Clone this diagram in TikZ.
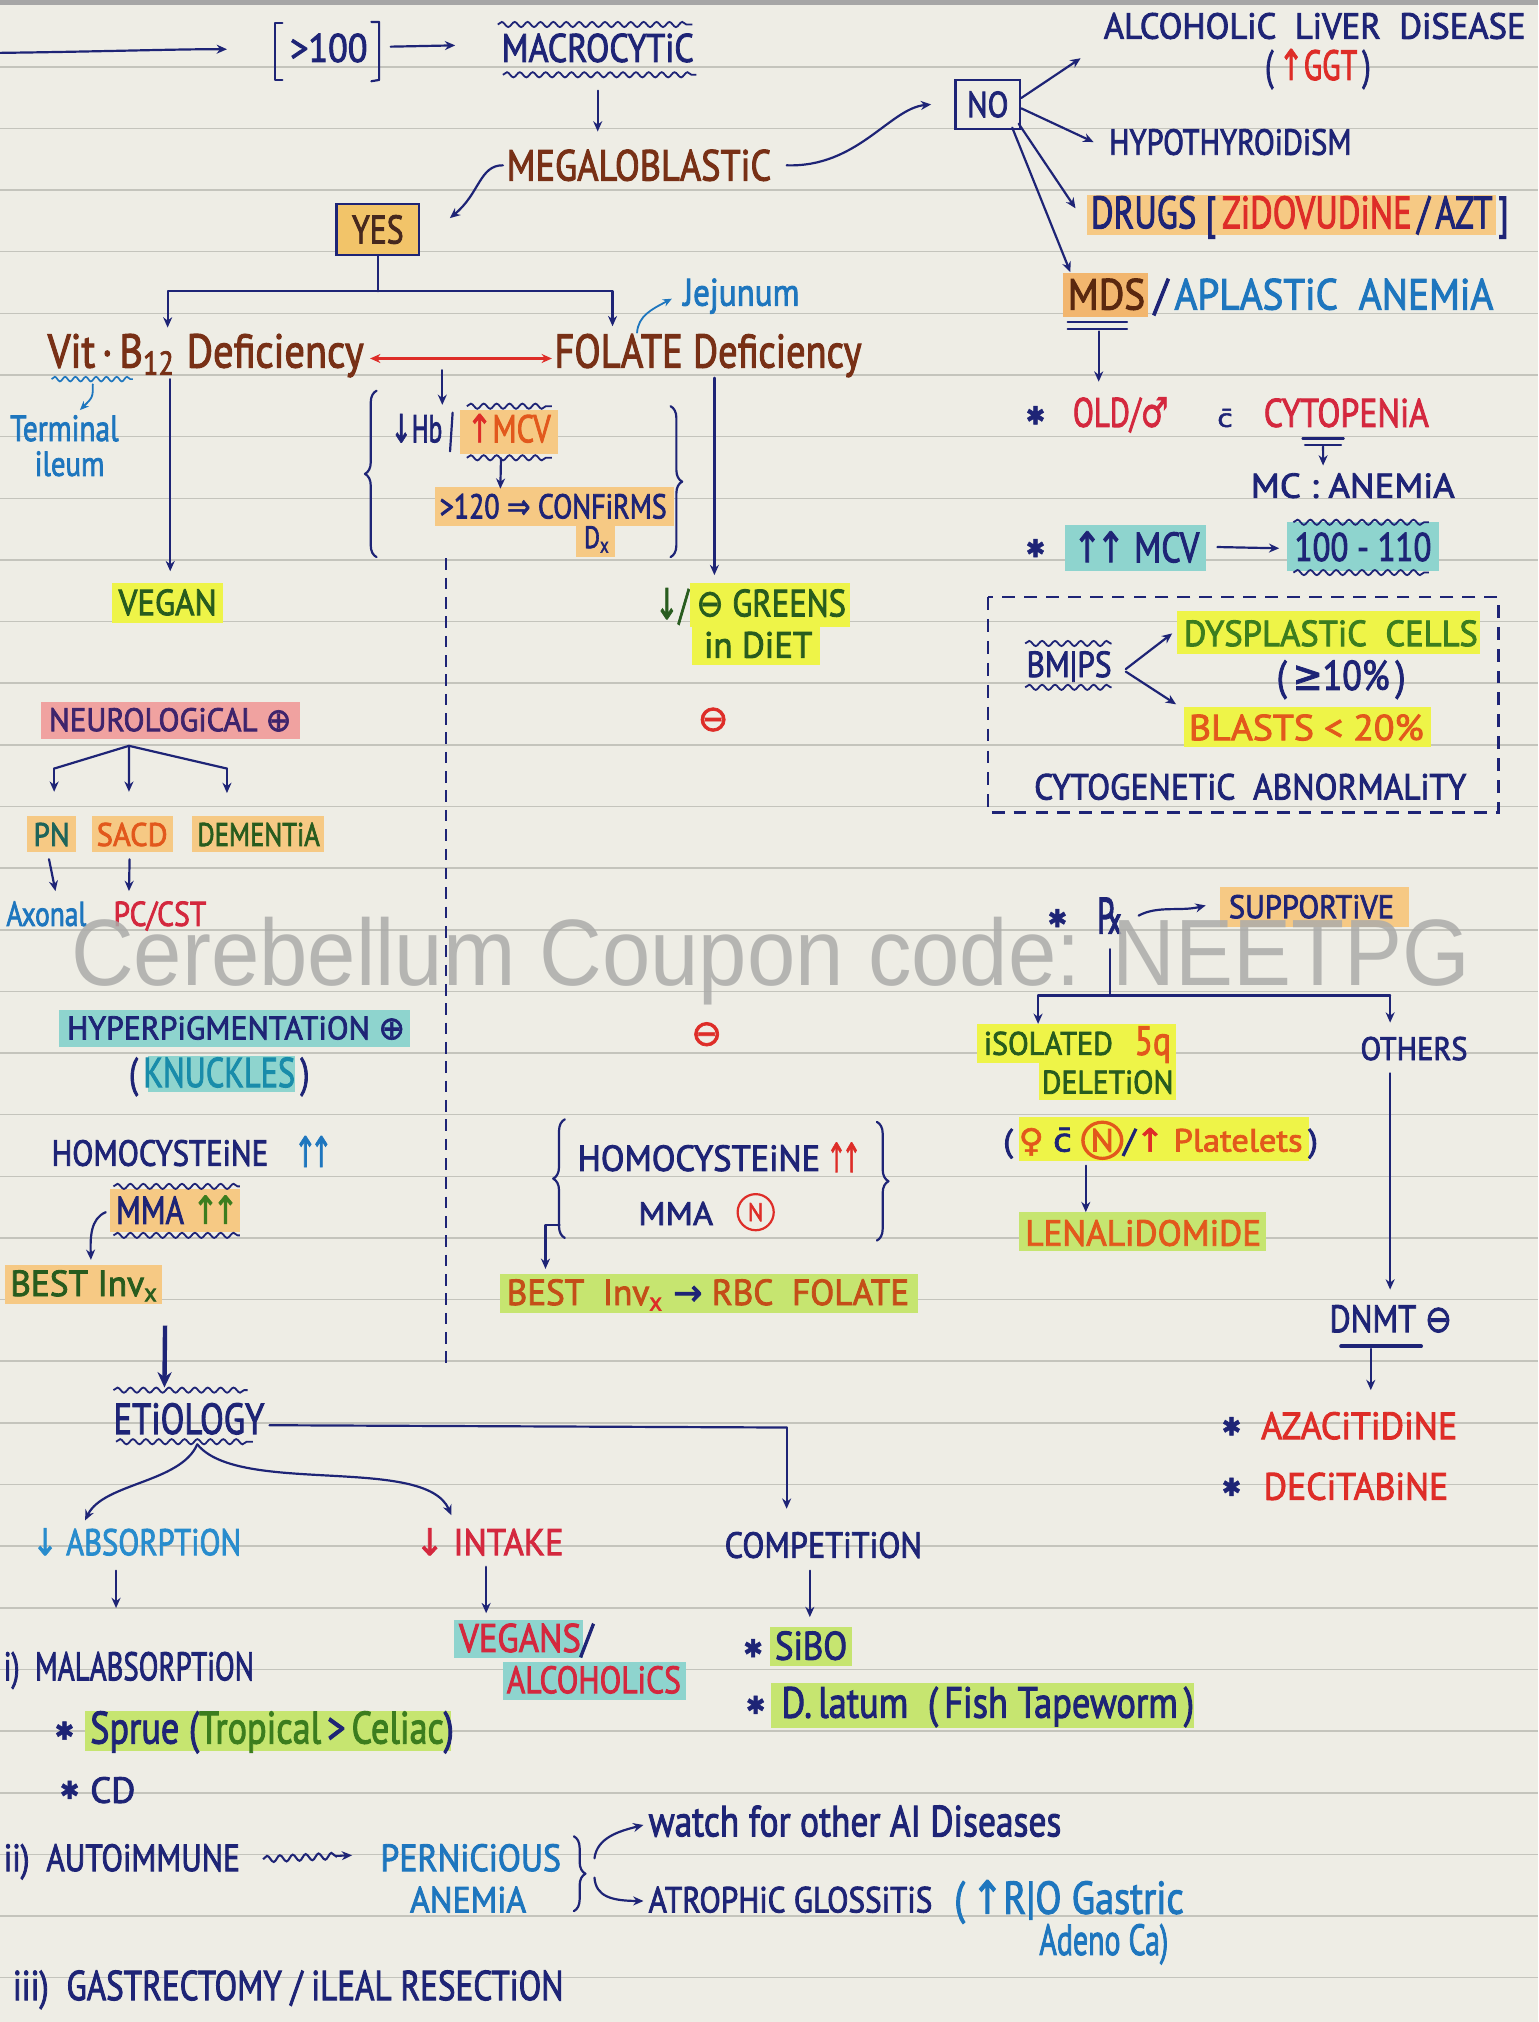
\documentclass[tikz,border=0pt]{standalone}
\usepackage{fontspec}
\usepackage{graphicx}
\usetikzlibrary{arrows.meta,decorations.pathmorphing,decorations.pathreplacing,calc}
\newfontfamily\hand[FakeBold=2.4]{PT Sans}
\newfontfamily\sym[FakeBold=2]{DejaVu Sans}
\newfontfamily\wmark{Liberation Sans}
% box of given width and height (in picture units)
\newcommand\hw[3]{\resizebox{#1pt}{#2pt}{#3}}
\newcommand\uA{{\sym ↑}}
\newcommand\dA{{\sym ↓}}
\newcommand\cN[1]{\tikz[baseline=(cnn.base)]\node[circle,draw=#1,text=#1,line width=0.1em,inner sep=0.05em](cnn){\hand N};}
\definecolor{paper}{RGB}{238,237,229}
\definecolor{rule}{RGB}{196,196,188}
\definecolor{navy}{RGB}{30,36,118}
\definecolor{brownpen}{RGB}{120,48,22}
\definecolor{crim}{RGB}{212,40,62}
\definecolor{redpen}{RGB}{222,45,40}
\definecolor{bluepen}{RGB}{30,118,190}
\definecolor{skypen}{RGB}{40,140,205}
\definecolor{dgreen}{RGB}{40,92,30}
\definecolor{gpen}{RGB}{60,125,30}
\definecolor{orpen}{RGB}{226,88,28}
\definecolor{rustpen}{RGB}{196,78,24}
\definecolor{purp}{RGB}{62,36,108}
\definecolor{tealpen}{RGB}{25,140,170}
\definecolor{pnpen}{RGB}{30,100,90}
\definecolor{mdspen}{RGB}{90,40,15}
\definecolor{yespen}{RGB}{70,40,30}
\definecolor{hlY}{RGB}{238,244,72}
\definecolor{hlO}{RGB}{246,201,132}
\definecolor{hlM}{RGB}{242,182,110}
\definecolor{hlG}{RGB}{198,229,112}
\definecolor{hlT}{RGB}{142,212,206}
\definecolor{hlP}{RGB}{240,162,160}
\definecolor{yesfill}{RGB}{242,196,105}
\definecolor{wmgray}{RGB}{172,172,170}
\begin{document}
\begin{tikzpicture}[x=1pt,y=-1pt,
  txt/.style={inner sep=0pt, outer sep=0pt, anchor=base west, font=\hand},
  glyph/.style={inner sep=0pt, outer sep=0pt, anchor=center, font=\sym},
  inkline/.style={draw=navy, line width=1.7pt, line cap=round, line join=round},
  arr/.style={inkline, -{Stealth[length=8pt, width=7pt]}},
  arrb/.style={draw=bluepen, line width=1.4pt, line cap=round, -{Stealth[length=7pt, width=6pt]}},
  wavy/.style={draw=navy, line width=1.4pt, decorate, decoration={snake, amplitude=2pt, segment length=10pt}},
  curly/.style={inkline, decorate, decoration={brace, amplitude=9pt}},
]
% paper
\fill[paper] (0,0) rectangle (1193,1568);
\useasboundingbox (0,0) rectangle (1193,1568);
\fill[black!35] (0,0) rectangle (1193,4);
\foreach \k in {1,...,32} \draw[rule, line width=1.2pt] (0,{4+47.8*\k}) -- (1193,{4+47.8*\k});

% ================= top chain
\coordinate (st) at (0,41);
\node[txt] (gt) at (225,48) {\hw{60}{22}{\color{navy}>100}};
\draw[inkline] (219,18)--(213,18)--(213,62)--(219,62);
\draw[inkline] (288,17)--(294,17)--(294,62)--(288,63);
\draw[arr] (st) .. controls (80,40) and (140,38) .. ($(gt.west)+(-49,1)$);
\node[txt] (macro) at (389,48) {\hw{149}{22}{\color{navy}MACROCYTiC}};
\draw[arr] ($(gt.east)+(18,-1)$) -- ($(macro.west)+(-36,-2)$);
\draw[wavy] (386,19) -- (537,19);
\draw[wavy] (390,58) -- (540,58);
\node[txt] (mega) at (393,140) {\hw{205}{24}{\color{brownpen}MEGALOBLASTiC}};
\draw[arr] ($(macro.south)+(0,22)$) -- ($(macro.south |- mega.north)+(0,-14)$);

\node[draw=navy, line width=1.7pt, fill=yesfill, minimum width=64pt, minimum height=40pt, inner sep=0pt] (yes) at (293,178) {\hw{40}{22}{\color{yespen}\hand YES}};
\draw[arr] ($(mega.west)+(-3,0)$) .. controls (372,128) and (372,150) .. ($(yes.north east)+(23,12)$);

\node[draw=navy, line width=1.9pt, minimum width=50pt, minimum height=38pt, inner sep=0pt] (no) at (766,81) {\hw{32}{20}{\color{navy}\hand NO}};
\draw[arr] ($(mega.east)+(12,0)$) .. controls (665,130) and (690,84) .. ($(no.west)+(-18,0)$);

% ================= NO branch
\node[txt] (ald) at (856,30) {\hw{327}{20}{\color{navy}ALCOHOLiC\ \ LiVER\ \ DiSEASE}};
\node[txt] (ggt) at (981,62) {\hw{82}{24}{\color{navy}(\,{\color{redpen}\uA GGT}\,)}};
\node[txt] (hypo) at (860,120) {\hw{188}{20}{\color{navy}HYPOTHYROiDiSM}};
\fill[hlO] (843,151) rectangle (1160,182);
\node[txt] (drugs) at (846,177) {\hw{324}{25}{\color{navy}DRUGS [\,{\color{redpen}ZiDOVUDiNE}\,/\,AZT\,]}};
\fill[hlM] (824,212) rectangle (890,246);
\node[txt] (mds) at (828,240) {\hw{60}{24}{\color{mdspen}MDS}};
\node[txt] (apl) at (895,240) {\hw{263}{24}{\color{navy}/\,{\color{bluepen}APLASTiC\ \ ANEMiA}}};
\draw[arr] ($(no.east)+(0,-5)$) -- ($(ald.west)+(-18,25)$);
\draw[arr] ($(no.east)+(0,3)$) -- ($(hypo.west)+(-12,0)$);
\draw[arr] ($(no.south east)+(-2,-5)$) -- ($(drugs.west)+(-12,-7)$);
\draw[arr] ($(no.south east)+(-7,-2)$) -- ($(mds.north)+(-28,-5)$);

\draw[inkline] (828,250) -- (874,250);
\draw[inkline] (828,255) -- (874,255);
\draw[arr] (852,257) -- (852,296);

\node[glyph] (s1) at (803,322) {\hw{15}{14}{\color{navy}✱}};
\node[txt] (old) at (832,331) {\hw{74}{23}{\color{crim}OLD/{\sym ♂}}};
\node[txt] (cb1) at (944,331) {\hw{12}{14}{\color{navy}\sym c̄}};
\node[txt] (cyto) at (980,331) {\hw{128}{22}{\color{crim}CYTOPENiA}};
\draw[inkline] (1010,340) -- (1042,340);
\draw[inkline] (1012,345) -- (1040,345);
\node[txt] (mc) at (970,386) {\hw{158}{19}{\color{navy}MC : ANEMiA}};
\draw[arr] ($(cyto.south)+(-18,15)$) -- ($(mc.north)+(-23,-6)$);

\node[glyph] (s2) at (803,425) {\hw{15}{14}{\color{navy}✱}};
\fill[hlT] (826,407) rectangle (935,443);
\node[txt] (mcv2) at (832,436) {\hw{98}{24}{\color{navy}\uA\kern-0.15em\uA\ MCV}};
\fill[hlT] (998,405) rectangle (1116,443);
\node[txt] (r100) at (1004,435) {\hw{106}{22}{\color{navy}100 - 110}};
\draw[arr] ($(mcv2.east)+(14,0)$) -- ($(r100.west)+(-12,1)$);
\draw[wavy] (1003,405) -- (1108,405);
\draw[wavy] (1003,444) -- (1108,444);

% dashed MDS box
\draw[navy, line width=1.7pt, dash pattern=on 10pt off 7pt] (766,463) rectangle (1162,630);
\node[txt] (bmps) at (796,525) {\hw{66}{20}{\color{navy}BM|PS}};
\draw[wavy] (795,499) -- (862,499);
\draw[wavy] (795,533) -- (862,533);
\fill[hlY] (913,474) rectangle (1148,507);
\node[txt] (dys) at (918,501) {\hw{228}{20}{\color{gpen}DYSPLASTiC\ \ CELLS}};
\node[txt] (ge10) at (990,535) {\hw{100}{23}{\color{navy}(\,{\sym ≥}10\%\,)}};
\fill[hlY] (918,548) rectangle (1110,579);
\node[txt] (blast) at (922,574) {\hw{182}{20}{\color{orpen}BLASTS < 20\%}};
\draw[arr] ($(bmps.east)+(11,2)$) -- ($(dys.west)+(-9,0)$);
\draw[arr] ($(bmps.east)+(11,4)$) -- ($(blast.west)+(-10,-18)$);
\node[txt] (cytog) at (802,620) {\hw{335}{20}{\color{navy}CYTOGENETiC\ \ ABNORMALiTY}};

% ================= treatment
\node[glyph] (s3) at (820,712) {\hw{15}{14}{\color{navy}✱}};
\node[txt] (rx) at (851,724) {\hw{20}{28}{\color{navy}\sym ℞}};
\fill[hlO] (946,688) rectangle (1093,719);
\node[txt] (supp) at (953,712) {\hw{128}{18}{\color{navy}SUPPORTiVE}};
\draw[arr] ($(rx.east)+(12,0)$) .. controls (898,702) and (915,707) .. ($(supp.west)+(-18,-1)$);
\draw[inkline] (861,736) -- (861,772);
\draw[inkline] (805,772) -- (1078,772);
\fill[hlY] (758,794) rectangle (912,824);
\fill[hlY] (806,824) rectangle (912,853);
\node[txt] (iso) at (763,818) {\hw{100}{18}{\color{dgreen}iSOLATED}};
\node[txt] (q5) at (880,818) {\hw{28}{22}{\color{orpen}5q}};
\node[txt] (del) at (808,848) {\hw{102}{18}{\color{dgreen}DELETiON}};
\node[txt] (oth) at (1055,822) {\hw{83}{18}{\color{navy}OTHERS}};
\draw[arr] (805,772) -- ($(iso.north west)+(42,-6)$);
\draw[arr] (1078,772) -- ($(oth.north west)+(23,-11)$);
\fill[hlY] (790,866) rectangle (1015,900);
\node[txt] (plt) at (778,893) {\hw{244}{24}{\color{navy}(\,{\color{orpen}\sym ♀} {\sym c̄} \cN{orpen}/{\color{redpen}\uA} {\color{orpen}Platelets}\,)}};
\fill[hlG] (790,940) rectangle (982,970);
\node[txt] (lena) at (795,966) {\hw{183}{20}{\color{orpen}LENALiDOMiDE}};
\draw[arr] (842,904) -- ($(lena.north west)+(47,-6)$);
\node[txt] (dnmt) at (1031,1033) {\hw{95}{21}{\color{navy}DNMT {\sym ⊖}}};
\draw[arr] ($(oth.south west)+(23,10)$) -- ($(dnmt.north west)+(47,-12)$);
\draw[navy, line width=3pt, line cap=round] (1040,1044) -- (1102,1044);
\node[glyph] (s4) at (955,1106) {\hw{15}{14}{\color{navy}✱}};
\node[txt] (aza) at (978,1116) {\hw{152}{21}{\color{redpen}AZACiTiDiNE}};
\node[glyph] (s5) at (955,1153) {\hw{15}{14}{\color{navy}✱}};
\node[txt] (dec) at (980,1163) {\hw{143}{21}{\color{redpen}DECiTABiNE}};
\draw[arr] (1063,1046) -- ($(aza.north west)+(85,-17)$);

% ================= YES branch
\draw[inkline] (yes.south) -- ++(0,27) coordinate (yb);
\draw[arr] (yb) -| (130,254);
\draw[arr] (yb) -| (475,253);
\node[txt] (vit) at (37,285) {\hw{245}{26}{\color{brownpen}Vit\,·\,B\textsubscript{12} Deficiency}};
\node[txt] (fol) at (430,285) {\hw{238}{26}{\color{brownpen}FOLATE Deficiency}};
\draw[redpen, line width=1.6pt, {Stealth[length=8pt,width=7pt]}-{Stealth[length=8pt,width=7pt]}] (287,278) -- (428,278);
\draw[bluepen, line width=1.3pt, decorate, decoration={snake, amplitude=1.8pt, segment length=8pt}] (40,294) -- (103,294);
\node[txt] (term) at (8,342) {\hw{84}{20}{\color{bluepen}Terminal}};
\node[txt] (ileum) at (27,369) {\hw{54}{19}{\color{bluepen}ileum}};
\draw[arrb] (72,298) .. controls (72,308) .. ($(term.north)+(12,-4)$);
\node[txt] (jej) at (530,237) {\hw{90}{21}{\color{bluepen}Jejunum}};
\draw[arrb] (494,258) .. controls (495,245) and (505,240) .. ($(jej.west)+(-9,2)$);

% lab findings
\draw[arr] (343,287) -- (343,314);
\draw[curly] (292,432) -- (292,303);
\node[txt] (hb) at (303,343) {\hw{40}{22}{\color{navy}\dA Hb}};
\draw[inkline] (351,320) -- (349,350);
\fill[hlO] (357,318) rectangle (433,352);
\node[txt] (mcv1) at (362,343) {\hw{65}{22}{{\color{redpen}\uA}{\color{orpen}MCV}}};
\draw[wavy] (362,315) -- (428,315);
\draw[wavy] (362,355) -- (428,355);
\fill[hlO] (337,378) rectangle (523,408);
\fill[hlO] (447,406) rectangle (477,432);
\node[txt] (conf) at (341,402) {\hw{176}{19}{\color{navy}>120 {\sym ⇒} CONFiRMS}};
\node[txt] (dx) at (453,425) {\hw{20}{17}{\color{navy}D\textsubscript{x}}};
\draw[arr] ($(mcv1.south)+(-6,12)$) -- ($(conf.north)+(-41,-4)$);
\draw[curly] (520,315) -- (520,432);

\draw[arr] (132,294) -- (132,443);
\draw[arr] (554,293) -- (554,446);
\fill[hlY] (87,452) rectangle (173,483);
\node[txt] (vegan) at (92,477) {\hw{76}{20}{\color{dgreen}VEGAN}};
\node[txt] (gr0) at (508,480) {\hw{26}{24}{\color{dgreen}\dA/}};
\fill[hlY] (535,452) rectangle (659,486);
\fill[hlY] (537,486) rectangle (636,516);
\node[txt] (gr1) at (540,478) {\hw{116}{21}{\color{dgreen}{\sym ⊖} GREENS}};
\node[txt] (gr2) at (546,510) {\hw{84}{20}{\color{dgreen}in DiET}};
\draw[navy, line width=1.6pt, dash pattern=on 9pt off 6pt] (346,433) -- (346,1062);
\node[glyph] (m1) at (553,558) {\hw{24}{18}{\color{redpen}⊖}};
\node[glyph] (m2) at (548,802) {\hw{24}{18}{\color{redpen}⊖}};

% B12 features
\fill[hlP] (32,544) rectangle (233,573);
\node[txt] (neuro) at (38,567) {\hw{188}{18}{\color{purp}NEUROLOGiCAL {\sym ⊕}}};
\coordinate (nj) at ($(neuro.south)+(-32,11)$);
\draw[inkline] (nj) -- (42,596);
\draw[inkline] (nj) -- (176,596);
\draw[arr] (42,596) -- (42,614);
\draw[arr] (nj) -- (100,614);
\draw[arr] (176,596) -- (176,615);
\fill[hlO] (21,633) rectangle (59,661);
\node[txt] (pn) at (26,656) {\hw{28}{18}{\color{pnpen}PN}};
\fill[hlO] (71,633) rectangle (134,661);
\node[txt] (sacd) at (75,656) {\hw{55}{18}{\color{orpen}SACD}};
\fill[hlO] (149,633) rectangle (251,661);
\node[txt] (dem) at (153,656) {\hw{95}{18}{\color{dgreen}DEMENTiA}};
\node[txt] (axon) at (5,718) {\hw{62}{19}{\color{bluepen}Axonal}};
\node[txt] (pccst) at (88,718) {\hw{72}{19}{\color{crim}PC/CST}};
\draw[arr] ($(pn.south)+(-2,10)$) -- ($(axon.north)+(7,-8)$);
\draw[arr] ($(sacd.south)+(-2,10)$) -- ($(pccst.north)+(-24,-8)$);

\fill[hlT] (46,783) rectangle (318,812);
\node[txt] (hyper) at (52,806) {\hw{262}{18}{\color{navy}HYPERPiGMENTATiON {\sym ⊕}}};
\fill[hlT] (115,819) rectangle (229,847);
\node[txt] (knk) at (100,843) {\hw{140}{23}{\color{navy}(\,{\color{tealpen}KNUCKLES}\,)}};
\node[txt] (hcy1) at (40,904) {\hw{168}{20}{\color{navy}HOMOCYSTEiNE}};
\node[txt] (hcy1u) at (228,905) {\hw{30}{24}{\color{bluepen}\uA\kern-0.25em\uA}};
\fill[hlO] (85,922) rectangle (186,955);
\node[txt] (mma1) at (90,949) {\hw{95}{22}{{\color{navy}MMA\ }{\color{gpen}\uA\kern-0.2em\uA}}};
\draw[wavy] (88,920) -- (186,920);
\draw[wavy] (88,958) -- (186,958);
\fill[hlO] (4,981) rectangle (126,1011);
\node[txt] (best1) at (8,1005) {\hw{115}{20}{\color{dgreen}BEST Inv\textsubscript{x}}};
\draw[arr] ($(mma1.west)+(-8,2)$) .. controls (70,945) and (70,960) .. ($(best1.north)+(5,-8)$);

% etiology
\node[txt] (etio) at (88,1112) {\hw{117}{24}{\color{navy}ETiOLOGY}};
\draw[navy, line width=3.4pt, -{Stealth[length=12pt,width=11pt]}] (128,1028) -- ($(etio.north)+(-19,-12)$);
\draw[wavy] (88,1078) -- (192,1078);
\draw[wavy] (90,1118) -- (196,1118);
\node[txt] (abs) at (25,1206) {\hw{162}{21}{\color{skypen}\dA\ ABSORPTiON}};
\node[txt] (intk) at (322,1206) {\hw{115}{21}{\color{crim}\dA\ INTAKE}};
\node[txt] (comp) at (562,1208) {\hw{153}{20}{\color{navy}COMPETiTiON}};
\draw[inkline] ($(etio.east)+(4,5)$) -- (610,1107);
\draw[arr] (610,1107) -- ($(comp.north west)+(48,-18)$);
\coordinate (ej) at (153,1120);
\draw[arr] (ej) .. controls (140,1150) and (80,1150) .. ($(abs.north west)+(41,-6)$);
\draw[arr] (ej) .. controls (185,1160) and (330,1128) .. ($(intk.north west)+(28,-10)$);
\draw[arr] (90,1218) -- (90,1247);
\draw[arr] (377,1215) -- (377,1251);
\draw[arr] (628,1218) -- (628,1254);

\node[txt] (malab) at (3,1303) {\hw{194}{22}{\color{navy}i)\ \ MALABSORPTiON}};
\fill[hlT] (352,1256) rectangle (452,1286);
\node[txt] (vegans) at (356,1281) {\hw{104}{22}{{\color{crim}VEGANS}{\color{navy}/}}};
\fill[hlT] (390,1289) rectangle (532,1318);
\node[txt] (alc) at (393,1313) {\hw{135}{21}{\color{crim}ALCOHOLiCS}};
\node[glyph] (s6) at (584,1278) {\hw{15}{14}{\color{navy}✱}};
\fill[hlG] (597,1262) rectangle (661,1292);
\node[txt] (sibo) at (601,1287) {\hw{56}{22}{\color{navy}SiBO}};
\node[glyph] (s7) at (586,1322) {\hw{15}{14}{\color{navy}✱}};
\fill[hlG] (598,1305) rectangle (926,1340);
\node[txt] (dlat) at (606,1332) {\hw{320}{24}{\color{navy}D.\,latum\ \ (\,Fish Tapeworm\,)}};
\node[glyph] (s8) at (50,1342) {\hw{15}{14}{\color{navy}✱}};
\fill[hlG] (66,1327) rectangle (350,1358);
\node[txt] (sprue) at (70,1352) {\hw{282}{25}{{\color{navy}Sprue (}{\color{gpen}Tropical}{\color{navy}\,>\,}{\color{gpen}Celiac}{\color{navy})}}};
\node[glyph] (s9) at (54,1388) {\hw{15}{14}{\color{navy}✱}};
\node[txt] (cd) at (70,1398) {\hw{35}{20}{\color{navy}CD}};

\node[txt] (auto) at (3,1451) {\hw{183}{21}{\color{navy}ii)\ \ AUTOiMMUNE}};
\node[txt] (pern) at (295,1451) {\hw{140}{21}{\color{bluepen}PERNiCiOUS}};
\node[txt] (pa2) at (318,1483) {\hw{90}{20}{\color{bluepen}ANEMiA}};
\draw[navy, line width=1.6pt, decorate, decoration={snake, amplitude=2.5pt, segment length=10pt, post length=9pt}, -{Stealth[length=8pt,width=7pt]}] ($(auto.east)+(18,-2)$) -- ($(pern.west)+(-22,-2)$);
\draw[curly] (445,1424) -- (445,1482);
\node[txt] (watch) at (503,1424) {\hw{320}{24}{\color{navy}watch for other AI Diseases}};
\node[txt] (atro) at (503,1483) {\hw{220}{20}{\color{navy}ATROPHiC GLOSSiTiS}};
\draw[arr] (461,1441) .. controls (463,1425) and (480,1420) .. ($(watch.west)+(-4,3)$);
\draw[arr] (461,1456) .. controls (462,1471) and (475,1474) .. ($(atro.west)+(-4,1)$);
\node[txt] (rog) at (740,1484) {\hw{178}{26}{\color{bluepen}(\,\uA R|O Gastric}};
\node[txt] (aden) at (806,1516) {\hw{100}{24}{\color{bluepen}Adeno Ca)}};
\node[txt] (gast) at (10,1551) {\hw{427}{23}{\color{navy}iii)\ \ GASTRECTOMY / iLEAL RESECTiON}};

% folate labs
\draw[curly] (438,960) -- (438,868);
\node[txt] (hcy2) at (448,908) {\hw{188}{20}{\color{navy}HOMOCYSTEiNE}};
\node[txt] (hcy2u) at (641,909) {\hw{27}{23}{\color{redpen}\uA\kern-0.2em\uA}};
\draw[curly] (680,870) -- (680,962);
\node[txt] (mma2) at (495,950) {\hw{58}{18}{\color{navy}MMA}};
\node[circle, draw=redpen, line width=1.7pt, minimum size=28pt, inner sep=0pt] (n2) at (586,940) {\hw{12}{14}{\color{redpen}\hand N}};
\fill[hlG] (388,988) rectangle (712,1018);
\node[txt] (best2) at (393,1012) {\hw{312}{20}{\color{rustpen}BEST\ \ Inv\textsubscript{\color{redpen}x} {\color{navy}\sym →} RBC\ \ FOLATE}};
\draw[arr] (434,950) -- (423,950) -- ($(best2.north west)+(30,-8)$);

% watermark
\node[anchor=base west, inner sep=0pt, opacity=0.85] (wm) at (55,764) {\hw{1085}{53}{\color{wmgray}\wmark Cerebellum Coupon code: NEETPG}};
\end{tikzpicture}
\end{document}
